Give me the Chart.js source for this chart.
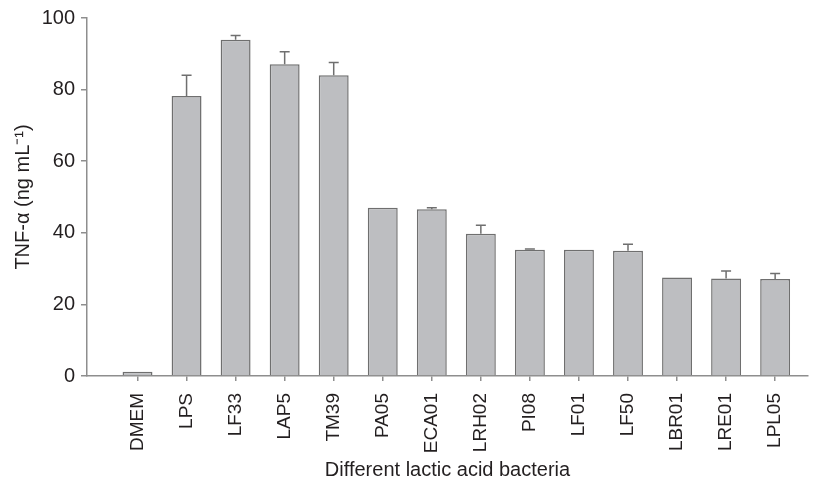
<!DOCTYPE html>
<html>
<head>
<meta charset="utf-8">
<script src="https://cdn.jsdelivr.net/npm/chart.js@4/dist/chart.umd.min.js"></script>
<style>
  html, body { margin: 0; padding: 0; background: #fff; }
  #wrap { width: 818px; height: 489px; }
</style>
</head>
<body>
<div id="wrap"><canvas id="chart" width="818" height="489"></canvas></div>
<script>
const strains = ['DMEM','LPS','LF33','LAP5','TM39','PA05','ECA01','LRH02','PI08','LF01','LF50','LBR01','LRE01','LPL05']
const tnfValues = [1.2, 78.2, 93.9, 87.1, 84.0, 47.0, 46.6, 39.7, 35.3, 35.3, 35.0, 27.5, 27.2, 27.1]
const tnfErrors = [0, 5.8, 1.2, 3.5, 3.6, 0, 0.4, 2.4, 0.2, 0, 1.8, 0, 2.1, 1.5]
const yTicks = [0, 20, 40, 60, 80, 100]

const textColor = '#231f20'
const axisColor = '#8e8e8e'
const font = 'Liberation Sans, Arial, sans-serif'

// upper error bars drawn on top of the bars
const errorBars = {
    id: 'errorBars',
    afterDatasetsDraw(chart) {
        const ctx = chart.ctx
        const y = chart.scales.y
        const meta = chart.getDatasetMeta(0)
        ctx.save()
        ctx.strokeStyle = '#6f6f6f'
        ctx.lineWidth = 1.5
        meta.data.forEach((bar, i) => {
            if (!tnfErrors[i]) return
            const top = y.getPixelForValue(tnfValues[i] + tnfErrors[i])
            const base = y.getPixelForValue(tnfValues[i])
            ctx.beginPath()
            ctx.moveTo(bar.x, base)
            ctx.lineTo(bar.x, top)
            ctx.moveTo(bar.x - 5, top)
            ctx.lineTo(bar.x + 5, top)
            ctx.stroke()
        })
        ctx.restore()
    }
}

const chart = document.querySelector('#chart').getContext('2d')

new Chart(chart, {
    type: 'bar',
    data: {
        datasets: [{
            data: tnfValues.map((v, i) => ({ x: i, y: v })),
            backgroundColor: '#bdbec1',
            borderColor: '#6f6f6f',
            borderWidth: 1.5,
            barPercentage: 0.61,
            categoryPercentage: 1
        }]
    },
    options: {
        responsive: false,
        animation: false,
        layout: { padding: { top: 17, right: 10, left: 0, bottom: 0 } },
        plugins: { legend: { display: false }, tooltip: { enabled: false } },
        scales: {
            x: {
                type: 'linear',
                offset: false,
                min: -1.03,
                max: 13.67,
                afterBuildTicks: s => { s.ticks = strains.map((c, i) => ({ value: i })) },
                afterFit: s => { s.height = 113 },
                ticks: {
                    autoSkip: false,
                    minRotation: 90,
                    maxRotation: 90,
                    padding: 12,
                    color: textColor,
                    font: { family: font, size: 19 },
                    callback: v => strains[v]
                },
                grid: { display: true, offset: false, drawOnChartArea: false, tickLength: 5, color: axisColor, lineWidth: 1.5 },
                border: { color: axisColor, width: 1.5 },
                title: {
                    display: true,
                    text: 'Different lactic acid bacteria',
                    color: textColor,
                    font: { family: font, size: 20 },
                    padding: { top: 4, bottom: 7 }
                }
            },
            y: {
                min: 0,
                max: 100,
                afterBuildTicks: s => { s.ticks = yTicks.map(v => ({ value: v })) },
                afterFit: s => { s.width = 87 },
                ticks: {
                    padding: 6,
                    color: textColor,
                    font: { family: font, size: 20 }
                },
                grid: { display: true, drawOnChartArea: false, tickLength: 6, color: axisColor, lineWidth: 1.5 },
                border: { color: axisColor, width: 1.5 },
                title: {
                    display: true,
                    text: 'TNF-α (ng mL⁻¹)',
                    color: textColor,
                    font: { family: font, size: 20 },
                    padding: { top: 11, bottom: 0 }
                }
            }
        }
    },
    plugins: [errorBars]
})
</script>
</body>
</html>
